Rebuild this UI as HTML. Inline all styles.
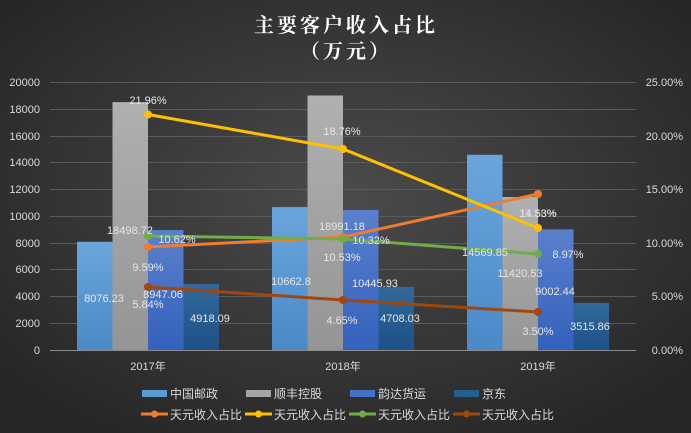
<!DOCTYPE html>
<html><head><meta charset="utf-8"><style>
html,body{margin:0;padding:0;}
body{width:691px;height:433px;overflow:hidden;}
svg{display:block;font-family:"Liberation Sans","Noto Sans CJK SC",sans-serif;}
</style></head><body>
<svg width="691" height="433" viewBox="0 0 691 433">
<defs>
<radialGradient id="bg" cx="50%" cy="45%" r="65%">
<stop offset="0" stop-color="#4b4b4b"/><stop offset="1" stop-color="#262626"/>
</radialGradient>
<linearGradient id="b1" x1="0" y1="0" x2="0" y2="1"><stop offset="0" stop-color="#6aa6dc"/><stop offset="1" stop-color="#4a89c8"/></linearGradient>
<linearGradient id="b2" x1="0" y1="0" x2="0" y2="1"><stop offset="0" stop-color="#b0b0b0"/><stop offset="1" stop-color="#959595"/></linearGradient>
<linearGradient id="b3" x1="0" y1="0" x2="0" y2="1"><stop offset="0" stop-color="#5a80cc"/><stop offset="1" stop-color="#3461bc"/></linearGradient>
<linearGradient id="b4" x1="0" y1="0" x2="0" y2="1"><stop offset="0" stop-color="#33689a"/><stop offset="1" stop-color="#1d5187"/></linearGradient>
</defs>
<rect width="691" height="433" fill="url(#bg)"/>
<g fill="#fff" font-weight="bold" font-size="20" text-anchor="middle" letter-spacing="3" font-family="'Noto Serif CJK SC','Noto Sans CJK SC',serif">
<text x="346" y="32">主要客户收入占比</text>
<text x="346" y="58">（万元）</text>
</g>
<g stroke="#5a5a5a" stroke-width="1">
<line x1="50" x2="636" y1="82.5" y2="82.5"/><line x1="50" x2="636" y1="109.5" y2="109.5"/>
<line x1="50" x2="636" y1="136.5" y2="136.5"/><line x1="50" x2="636" y1="162.5" y2="162.5"/>
<line x1="50" x2="636" y1="189.5" y2="189.5"/><line x1="50" x2="636" y1="216.5" y2="216.5"/>
<line x1="50" x2="636" y1="243.5" y2="243.5"/><line x1="50" x2="636" y1="269.5" y2="269.5"/>
<line x1="50" x2="636" y1="296.5" y2="296.5"/><line x1="50" x2="636" y1="323.5" y2="323.5"/>
</g>
<g fill="#d9d9d9" font-size="11" text-anchor="end">
<text x="40" y="86">20000</text><text x="40" y="113">18000</text><text x="40" y="140">16000</text>
<text x="40" y="166">14000</text><text x="40" y="193">12000</text><text x="40" y="220">10000</text>
<text x="40" y="247">8000</text><text x="40" y="273">6000</text><text x="40" y="300">4000</text>
<text x="40" y="327">2000</text><text x="40" y="354">0</text>
</g>
<g fill="#d9d9d9" font-size="11" text-anchor="end">
<text x="683" y="86">25.00%</text><text x="683" y="140">20.00%</text><text x="683" y="193">15.00%</text>
<text x="683" y="247">10.00%</text><text x="683" y="300">5.00%</text><text x="683" y="354">0.00%</text>
</g>
<!-- bars -->
<rect x="77" y="241.8" width="35.5" height="108.2" fill="url(#b1)"/>
<rect x="112.5" y="102.1" width="35.5" height="247.9" fill="url(#b2)"/>
<rect x="148" y="230.1" width="35.5" height="119.9" fill="url(#b3)"/>
<rect x="183.5" y="284.1" width="35.5" height="65.9" fill="url(#b4)"/>
<rect x="272" y="207.1" width="35.5" height="142.9" fill="url(#b1)"/>
<rect x="307.5" y="95.5" width="35.5" height="254.5" fill="url(#b2)"/>
<rect x="343" y="210" width="35.5" height="140" fill="url(#b3)"/>
<rect x="378.5" y="286.9" width="35.5" height="63.1" fill="url(#b4)"/>
<rect x="467" y="154.8" width="35.5" height="195.2" fill="url(#b1)"/>
<rect x="502.5" y="197" width="35.5" height="153" fill="url(#b2)"/>
<rect x="538" y="229.4" width="35.5" height="120.6" fill="url(#b3)"/>
<rect x="573.5" y="302.9" width="35.5" height="47.1" fill="url(#b4)"/>
<line x1="50" x2="636" y1="350.5" y2="350.5" stroke="#8a8a8a" stroke-width="1"/>
<!-- lines -->
<g stroke-width="3" fill="none" stroke-linecap="round">
<polyline points="148,247 343,237 538,194" stroke="#ed7d31"/>
<polyline points="148,114.5 343,149 538,228" stroke="#ffc000"/>
<polyline points="148,236 343,239 538,254" stroke="#70ad47"/>
<polyline points="148,287 343,300 538,312" stroke="#9e480e"/>
</g>
<g>
<circle cx="148" cy="247" r="4" fill="#ed7d31"/><circle cx="343" cy="237" r="4" fill="#ed7d31"/><circle cx="538" cy="194" r="4" fill="#ed7d31"/>
<circle cx="148" cy="114.5" r="4" fill="#ffc000"/><circle cx="343" cy="149" r="4" fill="#ffc000"/><circle cx="538" cy="228" r="4" fill="#ffc000"/>
<circle cx="148" cy="236" r="4" fill="#70ad47"/><circle cx="343" cy="239" r="4" fill="#70ad47"/><circle cx="538" cy="254" r="4" fill="#70ad47"/>
<circle cx="148" cy="287" r="4" fill="#9e480e"/><circle cx="343" cy="300" r="4" fill="#9e480e"/><circle cx="538" cy="312" r="4" fill="#9e480e"/>
</g>
<!-- data labels -->
<g fill="#e6e6e6" font-size="11" text-anchor="middle">
<text x="104" y="302">8076.23</text>
<text x="130" y="234">18498.72</text>
<text x="163" y="298">8947.06</text>
<text x="210" y="322">4918.09</text>
<text x="148" y="104">21.96%</text>
<text x="177" y="243">10.62%</text>
<text x="148" y="271">9.59%</text>
<text x="148" y="308">5.84%</text>
<text x="291" y="285">10662.8</text>
<text x="342" y="230">18991.18</text>
<text x="375" y="287">10445.93</text>
<text x="400" y="322">4708.03</text>
<text x="342" y="135">18.76%</text>
<text x="342" y="261">10.53%</text>
<text x="371" y="244">10.32%</text>
<text x="342" y="324">4.65%</text>
<text x="485" y="256">14569.85</text>
<text x="520" y="277">11420.53</text>
<text x="555" y="295">9002.44</text>
<text x="590" y="330">3515.86</text>
<text x="538" y="217">14.53%</text>
<text x="538" y="217" fill-opacity="0.6">11.38%</text>
<text x="568" y="258">8.97%</text>
<text x="538" y="335">3.50%</text>
</g>
<g fill="#d9d9d9" font-size="11" text-anchor="middle">
<text x="148" y="370">2017年</text><text x="343" y="370">2018年</text><text x="538" y="370">2019年</text>
</g>
<!-- legend -->
<g font-size="12" fill="#d9d9d9">
<rect x="142" y="390" width="25" height="7" fill="#5b9bd5"/><text x="170" y="398">中国邮政</text>
<rect x="246" y="390" width="25" height="7" fill="#a5a5a5"/><text x="274" y="398">顺丰控股</text>
<rect x="350" y="390" width="25" height="7" fill="#4472c4"/><text x="378" y="398">韵达货运</text>
<rect x="454" y="390" width="25" height="7" fill="#255e91"/><text x="482" y="398">京东</text>
<line x1="141" x2="168" y1="414" y2="414" stroke="#ed7d31" stroke-width="3"/><circle cx="154.5" cy="414" r="3.5" fill="#ed7d31"/><text x="170" y="419">天元收入占比</text>
<line x1="245" x2="272" y1="414" y2="414" stroke="#ffc000" stroke-width="3"/><circle cx="258.5" cy="414" r="3.5" fill="#ffc000"/><text x="274" y="419">天元收入占比</text>
<line x1="349" x2="376" y1="414" y2="414" stroke="#70ad47" stroke-width="3"/><circle cx="362.5" cy="414" r="3.5" fill="#70ad47"/><text x="378" y="419">天元收入占比</text>
<line x1="453" x2="480" y1="414" y2="414" stroke="#9e480e" stroke-width="3"/><circle cx="466.5" cy="414" r="3.5" fill="#9e480e"/><text x="482" y="419">天元收入占比</text>
</g>
</svg>
</body></html>
